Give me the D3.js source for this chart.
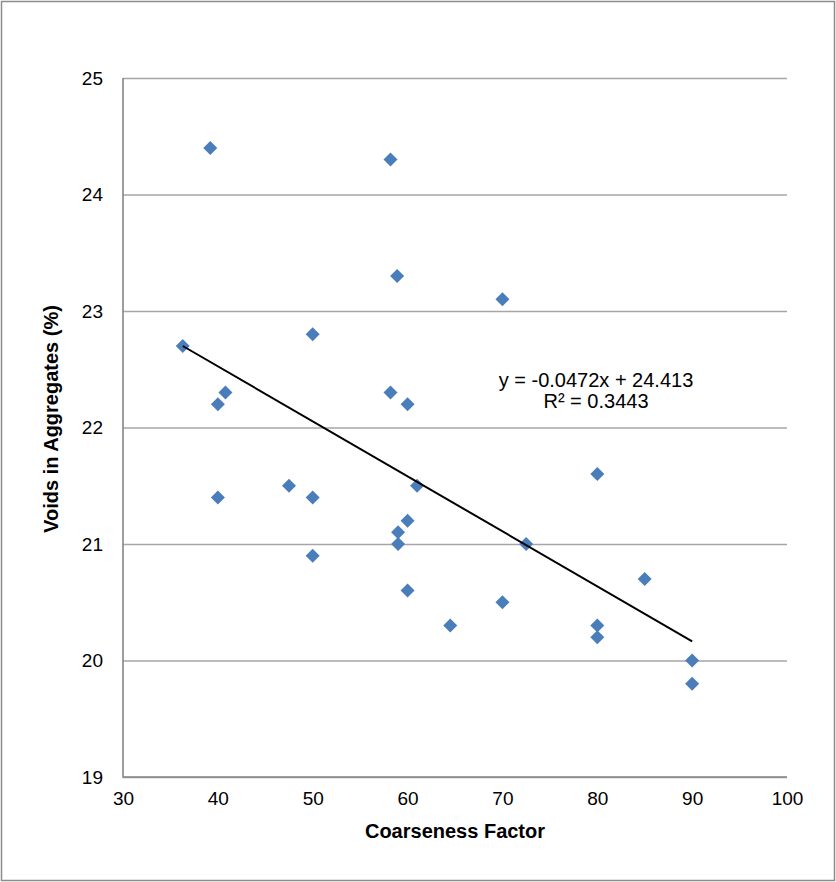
<!DOCTYPE html>
<html>
<head>
<meta charset="utf-8">
<script src="https://cdn.jsdelivr.net/npm/d3@7"></script>
<style>
  body { margin: 0; background: #fff; }
  text { font-family: "Liberation Sans", Arial, sans-serif; }
</style>
</head>
<body>
<svg width="836" height="882"></svg>
<script>
// Data
const coarseness = [39.2, 58.2, 58.9, 70, 50, 36.3, 58.2, 60, 40, 40.8, 40, 47.5, 50, 61,
                    60, 59, 59, 50, 60, 64.5, 80, 72.5, 70, 85, 80, 80, 90, 90];
const voids = [24.4, 24.3, 23.3, 23.1, 22.8, 22.7, 22.3, 22.2, 22.2, 22.3, 21.4, 21.5, 21.4, 21.5,
               21.2, 21.1, 21.0, 20.9, 20.6, 20.3, 21.6, 21.0, 20.5, 20.7, 20.3, 20.2, 20.0, 19.8];
const xTicks = [30, 40, 50, 60, 70, 80, 90, 100];
const yTicks = [19, 20, 21, 22, 23, 24, 25];
const trendSlope = -0.0472;
const trendIntercept = 24.413;
const equationLines = ["y = -0.0472x + 24.413", "R\u00b2 = 0.3443"];

const svg = d3.select("svg");

// outer frame
svg.append("rect")
    .attr("x", 1.5).attr("y", 1.5)
    .attr("width", 833).attr("height", 879)
    .attr("fill", "#fff")
    .attr("stroke", "#8c8c8c")
    .attr("stroke-width", 1.5);

const plot = { left: 123, right: 787, top: 78, bottom: 777 };

const x = d3.scaleLinear().domain([30, 100]).range([plot.left, plot.right]);
const y = d3.scaleLinear().domain([19, 25]).range([plot.bottom, plot.top]);

// Grid lines
svg.append("g")
    .attr("transform", `translate(${plot.left},0)`)
    .call(d3.axisLeft(y).tickValues(yTicks).tickSize(-(plot.right - plot.left)).tickFormat(""))
    .call(g => g.select(".domain").remove())
    .selectAll("line")
    .attr("stroke", "#a6a6a6")
    .attr("stroke-width", 1.3);

// Y axis labels
svg.append("g")
    .attr("transform", `translate(${plot.left},0)`)
    .call(d3.axisLeft(y).tickValues(yTicks).tickFormat(d3.format("d")).tickSize(0).tickPadding(20))
    .call(g => g.select(".domain").remove())
    .selectAll("text")
    .attr("fill", "#000")
    .style("font-size", "19px");

// X axis labels
svg.append("g")
    .attr("transform", `translate(0,${plot.bottom})`)
    .call(d3.axisBottom(x).tickValues(xTicks).tickFormat(d3.format("d")).tickSize(0).tickPadding(15))
    .call(g => g.select(".domain").remove())
    .selectAll("text")
    .attr("fill", "#000")
    .style("font-size", "19px");

// axis lines
svg.append("path")
    .attr("d", `M${plot.left},${plot.top}V${plot.bottom}H${plot.right}`)
    .attr("fill", "none")
    .attr("stroke", "#868686")
    .attr("stroke-width", 1.6);

// Points
const points = coarseness.map((c, i) => ({ x: c, y: voids[i] }));
svg.append("g")
    .selectAll("path")
    .data(points)
    .enter()
    .append("path")
    .attr("d", d3.symbol(d3.symbolSquare, 98))
    .attr("transform", d => `translate(${x(d.x)},${y(d.y)}) rotate(45)`)
    .attr("fill", "#4a7ebb");

// Linear trendline over the data range
const xMin = d3.min(coarseness), xMax = d3.max(coarseness);
svg.append("line")
    .attr("x1", x(xMin)).attr("y1", y(trendSlope * xMin + trendIntercept))
    .attr("x2", x(xMax)).attr("y2", y(trendSlope * xMax + trendIntercept))
    .attr("stroke", "#000")
    .attr("stroke-width", 2);

// Equation label
svg.append("g")
    .selectAll("text")
    .data(equationLines)
    .enter()
    .append("text")
    .attr("x", 596)
    .attr("y", (d, i) => 387 + i * 21)
    .attr("text-anchor", "middle")
    .style("font-size", "20px")
    .text(d => d);

// Axis titles
svg.append("text")
    .attr("x", (plot.left + plot.right) / 2)
    .attr("y", 838)
    .attr("text-anchor", "middle")
    .style("font-size", "20px")
    .style("font-weight", "bold")
    .text("Coarseness Factor");

svg.append("text")
    .attr("transform", "translate(58,419) rotate(-90)")
    .attr("text-anchor", "middle")
    .style("font-size", "20px")
    .style("font-weight", "bold")
    .text("Voids in Aggregates (%)");
</script>
</body>
</html>
